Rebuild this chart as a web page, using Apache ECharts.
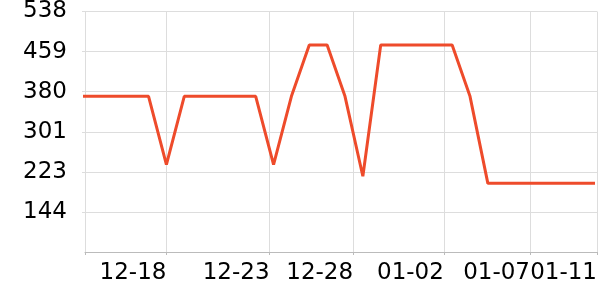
<!DOCTYPE html>
<html>
<head>
<meta charset="utf-8">
<script src="https://cdn.jsdelivr.net/npm/echarts@6/dist/echarts.min.js"></script>
<style>html,body{margin:0;padding:0;background:#fff}#c{width:600px;height:300px}</style>
</head>
<body>
<div id="c"></div>
<script>
var dates = ['2023-12-13','2023-12-14','2023-12-15','2023-12-16','2023-12-17','2023-12-18','2023-12-19','2023-12-20','2023-12-21','2023-12-22','2023-12-23','2023-12-24','2023-12-25','2023-12-26','2023-12-27','2023-12-28','2023-12-29','2023-12-30','2023-12-31','2024-01-01','2024-01-02','2024-01-03','2024-01-04','2024-01-05','2024-01-06','2024-01-07','2024-01-08','2024-01-09','2024-01-10','2024-01-11'];
var values = [371,371,371,371,371,237,371,371,371,371,371,237,371,472,472,371,214,472,472,472,472,472,371,200,200,200,200,200,200,200];
var xMin = '2023-12-13 10:36';
var xMax = '2024-01-11 02:40';
var xTickTimes = ['2023-12-13 10:36','2023-12-18 00:00','2023-12-23 18:35','2023-12-28 10:55','2024-01-02 12:50','2024-01-07 08:38','2024-01-11 02:40'];
var xLabelTimes = ['2023-12-18 00:00','2023-12-23 18:35','2023-12-28 10:55','2024-01-02 12:50','2024-01-07 08:38','2024-01-11 02:40'];
var yMin = 65, yMax = 537.8, yInterval = 78.8;

function t(s){ var p = s.split(/[- :]/).map(Number); return new Date(p[0], p[1]-1, p[2], p[3]||0, p[4]||0).getTime(); }
function pad(n){ return (n<10?'0':'')+n; }

var chart = echarts.init(document.getElementById('c'), null, {renderer:'canvas'});
chart.setOption({
  animation: false,
  grid: {left: 85, right: -2, top: 10, bottom: 48, containLabel: false},
  xAxis: {
    type: 'value',
    min: t(xMin), max: t(xMax),
    scale: true,
    axisLine: {show: true, lineStyle: {color: '#bbb', width: 1}},
    axisTick: {show: true, length: 3, lineStyle: {color: '#bbb'}, customValues: xTickTimes.map(t)},
    splitLine: {show: true, lineStyle: {color: '#ddd', width: 1}},
    axisLabel: {
      customValues: xLabelTimes.map(t),
      showMaxLabel: true,
      hideOverlap: false,
      align: 'right',
      margin: 10,
      color: '#000',
      fontSize: 23,
      fontFamily: 'DejaVu Sans',
      formatter: function(v){ var d = new Date(v); return pad(d.getMonth()+1) + '-' + pad(d.getDate()); }
    }
  },
  yAxis: {
    type: 'value',
    min: yMin, max: yMax, interval: yInterval,
    axisLine: {show: false},
    axisTick: {show: true, length: 3, lineStyle: {color: '#ddd'}},
    splitLine: {show: true, lineStyle: {color: '#ddd', width: 1}},
    axisLabel: {
      showMinLabel: false,
      margin: 18,
      color: '#000',
      fontSize: 23,
      fontFamily: 'DejaVu Sans',
      formatter: function(v){ return String(Math.round(v)); }
    }
  },
  series: [{
    type: 'line',
    data: dates.map(function(d, i){ return [t(d), values[i]]; }),
    showSymbol: false,
    symbol: 'none',
    lineStyle: {color: '#ee4b2b', width: 3},
    itemStyle: {color: '#ee4b2b'}
  }]
});
</script>
</body>
</html>
